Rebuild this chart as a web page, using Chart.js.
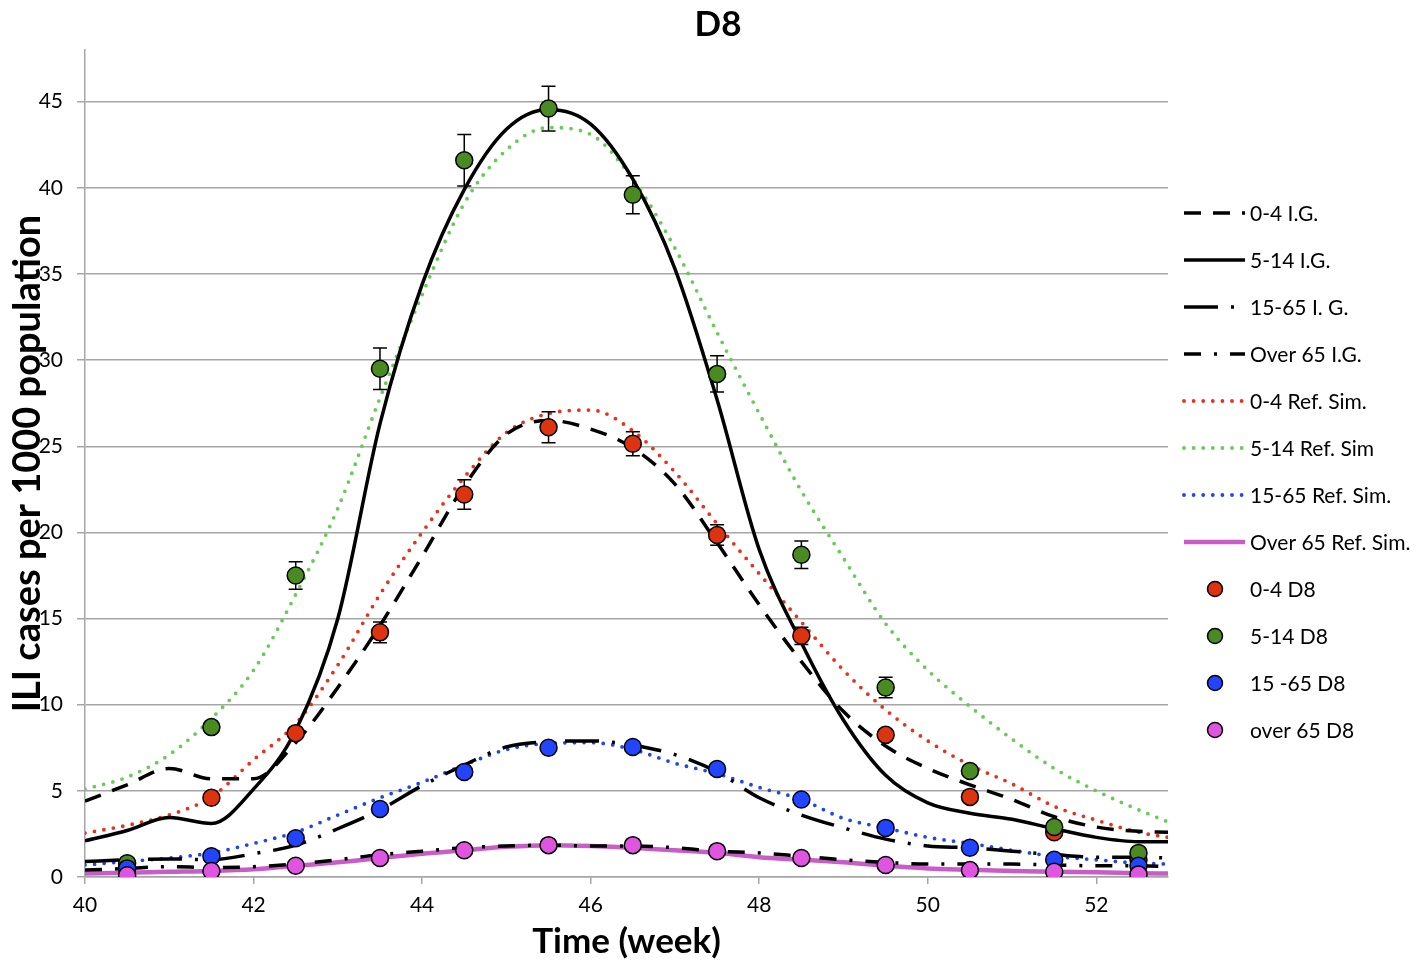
<!DOCTYPE html>
<html>
<head>
<meta charset="utf-8">
<script src="https://cdn.jsdelivr.net/npm/chart.js@4.4.0/dist/chart.umd.min.js"></script>
<style>
  html, body { margin: 0; padding: 0; background: #fff; }
  #wrap { width: 1427px; height: 962px; }
</style>
</head>
<body>
<div id="wrap"><canvas id="chart" width="1427" height="962"></canvas></div>
<script>
"use strict";
// weeks where the simulated curves are sampled
const curveWeeks = [40, 40.5, 41, 41.5, 42, 42.5, 43, 43.5, 44, 44.5, 45, 45.5, 46, 46.5,
                    47, 47.5, 48, 48.5, 49, 49.5, 50, 50.5, 51, 51.5, 52, 52.5, 52.85];

// I.G. curves (black)
const ig04   = [4.4, 5.35, 6.3, 5.7, 5.7, 7.8, 11.0, 14.6, 18.6, 22.7, 25.7, 26.5, 26.0, 24.9,
                22.8, 19.4, 15.8, 12.5, 9.6, 7.6, 6.3, 5.35, 4.5, 3.5, 2.9, 2.65, 2.6];
const ig514  = [2.1, 2.7, 3.45, 3.1, 5.1, 8.5, 15.0, 26.3, 34.4, 39.9, 43.4, 44.55, 43.7, 40.5,
                35.3, 27.7, 19.0, 13.6, 9.1, 5.9, 4.3, 3.7, 3.35, 2.8, 2.3, 2.05, 2.05];
const ig1565 = [0.9, 1.0, 1.05, 1.0, 1.35, 1.85, 2.8, 3.9, 5.3, 6.5, 7.55, 7.85, 7.9, 7.65,
                7.1, 6.1, 4.6, 3.6, 2.85, 2.2, 1.8, 1.7, 1.5, 1.3, 1.15, 1.15, 1.1];
const ig65   = [0.4, 0.5, 0.6, 0.55, 0.6, 0.75, 1.0, 1.3, 1.5, 1.7, 1.8, 1.85, 1.8, 1.8,
                1.7, 1.5, 1.4, 1.2, 1.0, 0.85, 0.75, 0.75, 0.75, 0.7, 0.65, 0.65, 0.6];

// reference simulation curves (dotted / magenta)
const ref04   = [2.55, 3.0, 3.6, 4.65, 6.8, 8.9, 12.3, 16.4, 20.0, 23.2, 25.8, 26.9, 27.1, 25.9,
                 23.5, 20.5, 17.6, 14.8, 12.0, 9.7, 7.9, 6.5, 5.4, 4.1, 3.3, 2.6, 2.3];
const ref514  = [5.1, 5.8, 7.1, 9.2, 12.0, 16.4, 21.4, 27.8, 33.8, 39.1, 42.2, 43.5, 43.1, 40.5,
                 36.5, 31.6, 26.9, 22.4, 18.5, 14.7, 12.0, 9.9, 8.0, 6.3, 5.0, 3.9, 3.2];
const ref1565 = [0.7, 0.9, 1.1, 1.4, 1.95, 2.6, 3.6, 4.6, 5.5, 6.5, 7.4, 7.75, 7.8, 7.4,
                 6.6, 6.0, 5.2, 4.5, 3.4, 2.85, 2.3, 1.95, 1.55, 1.2, 1.0, 0.8, 0.75];
const ref65   = [0.2, 0.25, 0.3, 0.35, 0.45, 0.65, 0.85, 1.1, 1.35, 1.55, 1.75, 1.85, 1.8, 1.7,
                 1.55, 1.4, 1.15, 1.0, 0.85, 0.65, 0.5, 0.42, 0.35, 0.3, 0.28, 0.22, 0.2];

// observed D8 data, middle of each week
const obsWeeks = [40.5, 41.5, 42.5, 43.5, 44.5, 45.5, 46.5, 47.5, 48.5, 49.5, 50.5, 51.5, 52.5];
const obs04    = [0.5, 4.6, 8.35, 14.2, 22.2, 26.1, 25.15, 19.85, 14.0, 8.25, 4.65, 2.6, 1.0];
const obs514   = [0.8, 8.7, 17.5, 29.5, 41.6, 44.6, 39.6, 29.2, 18.7, 11.0, 6.15, 2.9, 1.4];
const obs1565  = [0.5, 1.2, 2.25, 3.95, 6.1, 7.5, 7.55, 6.27, 4.5, 2.85, 1.7, 1.0, 0.65];
const obs65    = [0.1, 0.35, 0.65, 1.1, 1.55, 1.85, 1.85, 1.5, 1.1, 0.7, 0.4, 0.3, 0.15];
// error bars (+/-)
const err04    = [0, 0, 0.3, 0.6, 0.85, 0.9, 0.7, 0.6, 0.5, 0.3, 0, 0, 0];
const err514   = [0, 0, 0.8, 1.2, 1.5, 1.3, 1.1, 1.05, 0.8, 0.6, 0.3, 0, 0];

const xTicks = [40, 42, 44, 46, 48, 50, 52];
const yTicks = [0, 5, 10, 15, 20, 25, 30, 35, 40, 45];

const FONT = 'Lato, "Open Sans", sans-serif';
Chart.defaults.font.family = FONT;
Chart.defaults.color = '#000';

const toPts = (xs, ys) => xs.map((x, i) => ({ x: x, y: ys[i] }));

function curve(label, values, color, width, dash, cap) {
    return {
        type: 'line', label: label, data: toPts(curveWeeks, values),
        borderColor: color, borderWidth: width, borderDash: dash, borderCapStyle: cap,
        pointRadius: 0, cubicInterpolationMode: 'monotone', fill: false, order: 10
    };
}
function observed(label, values, color, errors, order) {
    return {
        type: 'scatter', label: label, data: toPts(obsWeeks, values),
        backgroundColor: color, borderColor: '#000', borderWidth: 1.5,
        pointRadius: 8.5, errors: errors, order: order
    };
}

const DOT = [0, 9.6];
const datasets = [
    curve('0-4 I.G.', ig04, '#000', 3.5, [17, 12], 'butt'),
    curve('5-14 I.G.', ig514, '#000', 3.5, [], 'butt'),
    curve('15-65 I. G.', ig1565, '#000', 3.5, [34, 13, 3, 13], 'butt'),
    curve('Over 65 I.G.', ig65, '#000', 3.5, [17, 13, 3, 13], 'butt'),
    curve('0-4 Ref. Sim.', ref04, '#e8311a', 3.8, DOT, 'round'),
    curve('5-14 Ref. Sim', ref514, '#66cc55', 3.8, DOT, 'round'),
    curve('15-65 Ref. Sim.', ref1565, '#2244ee', 3.8, DOT, 'round'),
    curve('Over 65 Ref. Sim.', ref65, '#c85dc8', 4.5, [], 'butt'),
    observed('0-4 D8', obs04, '#dd3311', err04, 4),
    observed('5-14 D8', obs514, '#4a8a22', err514, 3),
    observed('15 -65 D8', obs1565, '#2244ff', null, 2),
    observed('over 65 D8', obs65, '#e055e0', null, 1)
];

// error bars drawn just before their own markers
const errorBars = {
    id: 'errorBars',
    beforeDatasetDraw(chart, args) {
        const ds = chart.data.datasets[args.index];
        if (!ds.errors) return;
        const xs = chart.scales.x, ys = chart.scales.y, ctx = chart.ctx;
        ctx.save();
        ctx.strokeStyle = '#000';
        ctx.lineWidth = 1.5;
        ds.data.forEach((p, i) => {
            const e = ds.errors[i];
            if (!e) return;
            const px = xs.getPixelForValue(p.x);
            const top = ys.getPixelForValue(p.y + e);
            const bot = ys.getPixelForValue(p.y - e);
            ctx.beginPath();
            ctx.moveTo(px, top); ctx.lineTo(px, bot);
            ctx.moveTo(px - 7, top); ctx.lineTo(px + 7, top);
            ctx.moveTo(px - 7, bot); ctx.lineTo(px + 7, bot);
            ctx.stroke();
        });
        ctx.restore();
    }
};

// chart title and the legend on the right, one row per dataset
const sideLegend = {
    id: 'sideLegend',
    afterDraw(chart) {
        const ctx = chart.ctx;
        ctx.save();
        ctx.fillStyle = '#000';
        ctx.textAlign = 'center';
        ctx.textBaseline = 'middle';
        ctx.font = 'bold 35px ' + FONT;
        ctx.fillText('D8', 718, 25);

        ctx.textAlign = 'left';
        ctx.font = '21px ' + FONT;
        chart.data.datasets.forEach((ds, i) => {
            const y = 213 + i * 47;
            if (ds.type === 'line') {
                ctx.strokeStyle = ds.borderColor;
                ctx.lineWidth = ds.borderWidth;
                ctx.lineCap = ds.borderCapStyle;
                ctx.setLineDash(ds.borderDash);
                ctx.beginPath();
                ctx.moveTo(1184, y);
                ctx.lineTo(1245, y);
                ctx.stroke();
            } else {
                ctx.setLineDash([]);
                ctx.beginPath();
                ctx.arc(1215, y, 7.5, 0, Math.PI * 2);
                ctx.fillStyle = ds.backgroundColor;
                ctx.fill();
                ctx.lineWidth = 1.5;
                ctx.strokeStyle = '#000';
                ctx.stroke();
            }
            ctx.fillStyle = '#000';
            ctx.fillText(ds.label, 1250, y + 1);
        });
        ctx.restore();
    }
};

new Chart(document.getElementById('chart'), {
    type: 'line',
    data: { datasets: datasets },
    options: {
        responsive: false,
        animation: false,
        layout: { padding: { left: 0, right: 259, top: 50, bottom: 0 } },
        plugins: {
            legend: { display: false },
            tooltip: { enabled: false },
            title: { display: false }
        },
        scales: {
            x: {
                type: 'linear', min: 40, max: 52.85,
                afterBuildTicks: s => { s.ticks = xTicks.map(v => ({ value: v })); },
                afterFit: s => { s.height = 85; },
                ticks: { color: '#000', font: { size: 21 }, padding: 9, maxRotation: 0, autoSkip: false },
                grid: { drawOnChartArea: false, drawTicks: true, tickLength: 7, color: '#a6a6a6', lineWidth: 1.5 },
                border: { color: '#a6a6a6', width: 1.5 },
                title: {
                    display: true, text: 'Time (week)', color: '#000',
                    font: { size: 35, weight: 'bold', lineHeight: 1 },
                    padding: { top: 0, bottom: 3 }
                }
            },
            y: {
                type: 'linear', min: 0, max: 48,
                afterBuildTicks: s => { s.ticks = yTicks.map(v => ({ value: v })); },
                afterFit: s => { s.width = 85; },
                ticks: { color: '#000', font: { size: 21 }, padding: 14 },
                grid: { color: '#a6a6a6', lineWidth: 1.5, tickLength: 8 },
                border: { color: '#a6a6a6', width: 1.5 },
                title: {
                    display: true, text: 'ILI cases per 1000 population', color: '#000',
                    font: { size: 38, weight: 'bold', lineHeight: 1 },
                    padding: { top: 9, bottom: 0 }
                }
            }
        }
    },
    plugins: [errorBars, sideLegend]
});
</script>
</body>
</html>
